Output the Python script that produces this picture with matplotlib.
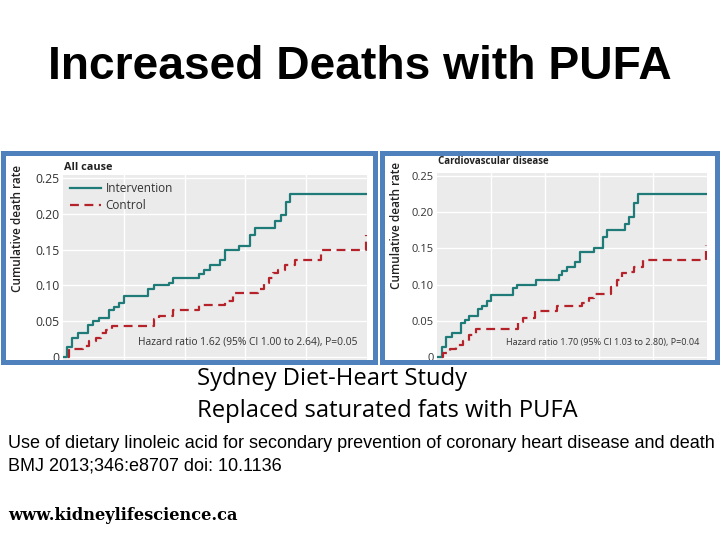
import matplotlib
matplotlib.use("Agg")
import matplotlib.pyplot as plt
from matplotlib.patches import Rectangle

# ---------------- data ----------------
years_end = 5.0
# All cause
ac_int_t = [0, 0.06, 0.15, 0.24, 0.41, 0.49, 0.59, 0.76, 0.84, 0.92, 1.00, 1.40, 1.49, 1.74, 1.81,
            2.24, 2.32, 2.41, 2.58, 2.67, 2.90, 3.08, 3.16, 3.49, 3.58, 3.66, 3.74, 5.00]
ac_int_v = [0, 0.014, 0.027, 0.033, 0.045, 0.050, 0.055, 0.065, 0.070, 0.075, 0.085, 0.095, 0.100, 0.104, 0.110,
            0.116, 0.122, 0.128, 0.135, 0.149, 0.155, 0.171, 0.180, 0.190, 0.198, 0.217, 0.228, 0.228]
ac_ctl_t = [0.08, 0.10, 0.33, 0.43, 0.55, 0.63, 0.71, 0.80, 1.49, 1.58, 1.81, 2.24, 2.66, 2.80, 3.21,
            3.30, 3.38, 3.46, 3.54, 3.65, 3.82, 4.24, 4.99]
ac_ctl_v = [0, 0.011, 0.015, 0.022, 0.027, 0.034, 0.038, 0.043, 0.053, 0.057, 0.066, 0.073, 0.078, 0.089, 0.095,
            0.103, 0.110, 0.118, 0.122, 0.128, 0.136, 0.149, 0.171]
# Cardiovascular disease
cv_int_t = [0, 0.10, 0.17, 0.27, 0.45, 0.51, 0.59, 0.76, 0.84, 0.92, 1.00, 1.41, 1.49, 1.83, 2.25,
            2.31, 2.40, 2.56, 2.65, 2.90, 3.07, 3.14, 3.48, 3.56, 3.65, 3.73, 5.00]
cv_int_v = [0, 0.014, 0.028, 0.033, 0.047, 0.051, 0.057, 0.066, 0.071, 0.077, 0.085, 0.095, 0.100, 0.107, 0.113,
            0.119, 0.125, 0.131, 0.145, 0.151, 0.166, 0.176, 0.184, 0.194, 0.213, 0.225, 0.225]
cv_ctl_t = [0.10, 0.12, 0.24, 0.36, 0.48, 0.59, 0.73, 1.50, 1.60, 1.81, 2.22, 2.68, 2.82, 2.90, 3.22,
            3.33, 3.42, 3.51, 3.64, 3.82, 4.99]
cv_ctl_v = [0, 0.006, 0.011, 0.017, 0.022, 0.031, 0.038, 0.049, 0.054, 0.063, 0.070, 0.075, 0.081, 0.087, 0.097,
            0.107, 0.116, 0.118, 0.125, 0.134, 0.155]

y_ticks = [0, 0.05, 0.10, 0.15, 0.20, 0.25]
y_tick_labels = ["0", "0.05", "0.10", "0.15", "0.20", "0.25"]
x_grid = [1, 2, 3, 4]

panel_titles = ["All cause", "Cardiovascular disease"]
hazard_texts = ["Hazard ratio 1.62 (95% CI 1.00 to 2.64), P=0.05",
                "Hazard ratio 1.70 (95% CI 1.03 to 2.80), P=0.04"]
series_names = ["Intervention", "Control"]

TEAL = "#1e7b78"
RED = "#b52229"
BLUE = "#4f81bd"
GRAY = "#ebebeb"
PFONT = ["Open Sans", "DejaVu Sans"]

W, H = 720, 540
fig = plt.figure(figsize=(7.2, 5.4), dpi=100)
fig.patch.set_facecolor("white")

def fx(px):
    return px / W

def fy(py):
    return 1 - py / H

def make_axes(left, right, y0, y25, fs):
    per = (y0 - y25) / 0.25
    ymin, ymax = -0.004, 0.254
    bottom = y0 - ymin * per
    top = y0 - ymax * per
    ax = fig.add_axes([fx(left), fy(bottom), fx(right - left), (bottom - top) / H])
    ax.set_xlim(0, years_end)
    ax.set_ylim(ymin, ymax)
    ax.set_facecolor(GRAY)
    for s in ax.spines.values():
        s.set_visible(False)
    ax.set_yticks(y_ticks)
    ax.set_yticklabels(y_tick_labels, fontsize=fs, family=PFONT, color="#333333")
    ax.set_xticks(x_grid)
    ax.set_xticklabels([])
    ax.tick_params(length=0, pad=2.5)
    ax.grid(True, color="white", lw=1.0)
    ax.set_axisbelow(True)
    return ax

axes = [make_axes(63, 367, 357, 178, 8.8), make_axes(437, 707, 357, 176, 8.0)]
data = [(ac_int_t, ac_int_v, ac_ctl_t, ac_ctl_v), (cv_int_t, cv_int_v, cv_ctl_t, cv_ctl_v)]
hz_fs = [7.4, 6.5]

for i, ax in enumerate(axes):
    it, iv, ct, cv = data[i]
    ax.step(it, iv, where="post", color=TEAL, lw=1.6, label=series_names[0], zorder=3)
    ax.step(ct, cv, where="post", color=RED, lw=1.6, ls=(0, (4, 2.5)), label=series_names[1], zorder=3)
    ax.text(0.97, 0.095, hazard_texts[i], transform=ax.transAxes, ha="right", va="center",
            fontsize=hz_fs[i], family=PFONT, color="#333333")

leg = axes[0].legend(loc="upper left", bbox_to_anchor=(0.0, 1.0), frameon=False,
                     prop={"family": PFONT, "size": 8.5}, handlelength=2.6, handletextpad=0.4,
                     labelspacing=0.3, borderaxespad=0.2, labelcolor="#333333")

# panel titles
fig.text(fx(64), fy(167), panel_titles[0], ha="left", va="center", fontsize=7.8,
         weight="bold", family=PFONT, color="#222222")
fig.text(fx(438), fy(162), panel_titles[1], ha="left", va="center", fontsize=7.0,
         weight="bold", family=PFONT, color="#222222")
# y labels
for xc, yc in [(18, 228), (396, 225)]:
    fig.text(fx(xc), fy(yc), "Cumulative death rate", rotation=90, ha="center", va="center",
             fontsize=8.5, weight="semibold", family=PFONT, color="#222222")

# blue frames
for x0, x1 in [(2.5, 374.5), (381.5, 716.5)]:
    r = Rectangle((fx(x0), fy(361.5)), fx(x1 - x0), (361.5 - 152.5) / H, transform=fig.transFigure,
                  fill=False, edgecolor=BLUE, lw=3.6, zorder=10)
    fig.patches.append(r)

# slide texts
fig.text(0.5, fy(67), "Increased Deaths with PUFA", ha="center", va="center",
         fontsize=33.2, weight="bold", family=["Liberation Sans", "DejaVu Sans"], color="black")
fig.text(fx(197), fy(379), "Sydney Diet-Heart Study", ha="left", va="center",
         fontsize=17.1, family=["Open Sans", "DejaVu Sans"], color="black")
fig.text(fx(197), fy(411), "Replaced saturated fats with PUFA", ha="left", va="center",
         fontsize=17.1, family=["Open Sans", "DejaVu Sans"], color="black")
fig.text(fx(8), fy(443), "Use of dietary linoleic acid for secondary prevention of coronary heart disease and death",
         ha="left", va="center", fontsize=13.0, family=["Liberation Sans", "DejaVu Sans"], color="black")
fig.text(fx(8), fy(466), "BMJ 2013;346:e8707 doi: 10.1136",
         ha="left", va="center", fontsize=13.0, family=["Liberation Sans", "DejaVu Sans"], color="black")
fig.text(fx(8), fy(516), "www.kidneylifescience.ca", ha="left", va="center",
         fontsize=11.7, weight="heavy", family=["DejaVu Serif"], color="black")

fig.savefig("out.png", dpi=100)
